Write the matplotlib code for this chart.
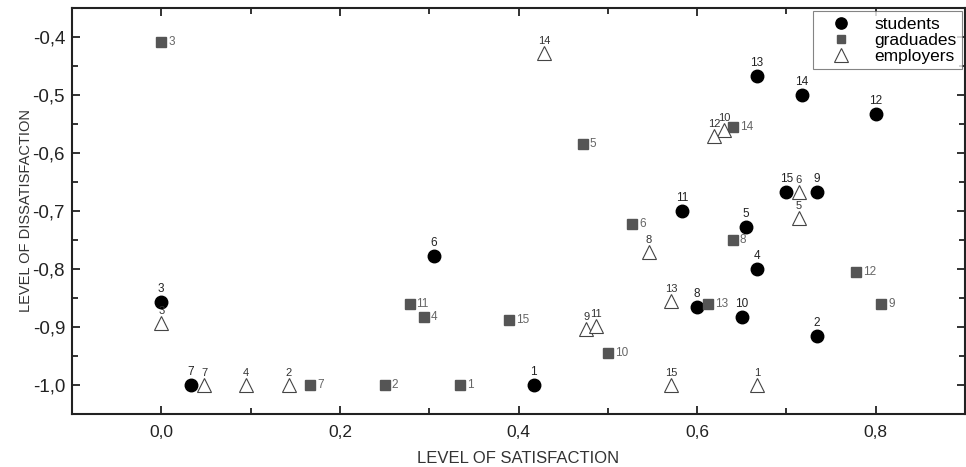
import matplotlib
matplotlib.use("Agg")
import matplotlib.pyplot as plt
from matplotlib.ticker import MultipleLocator, FuncFormatter

plt.rcParams['font.family'] = ['Liberation Sans', 'DejaVu Sans']

# students
stu_ids = [1, 2, 3, 4, 5, 6, 7, 8, 9, 10, 11, 12, 13, 14, 15]
stu_x = [0.417, 0.734, 0.0, 0.667, 0.655, 0.305, 0.033, 0.600, 0.734, 0.650, 0.583, 0.800, 0.667, 0.717, 0.700]
stu_y = [-1.0, -0.916, -0.857, -0.800, -0.727, -0.778, -1.0, -0.866, -0.667, -0.883, -0.700, -0.533, -0.468, -0.500, -0.667]

# graduates
grad_ids = [1, 2, 3, 4, 5, 6, 7, 8, 9, 10, 11, 12, 13, 14, 15]
grad_x = [0.334, 0.250, 0.0, 0.294, 0.472, 0.527, 0.167, 0.640, 0.806, 0.500, 0.278, 0.778, 0.612, 0.640, 0.389]
grad_y = [-1.0, -1.0, -0.409, -0.882, -0.584, -0.722, -1.0, -0.750, -0.860, -0.944, -0.861, -0.806, -0.860, -0.556, -0.888]

# employers
emp_ids = [1, 2, 3, 4, 5, 6, 7, 8, 9, 10, 11, 12, 13, 14, 15]
emp_x = [0.667, 0.143, 0.0, 0.095, 0.714, 0.714, 0.048, 0.546, 0.476, 0.630, 0.487, 0.619, 0.571, 0.429, 0.571]
emp_y = [-1.0, -1.0, -0.893, -1.0, -0.712, -0.667, -1.0, -0.771, -0.903, -0.560, -0.898, -0.571, -0.855, -0.428, -1.0]

fig = plt.figure(figsize=(9.66, 4.67), dpi=100)
ax = fig.add_axes([0.0745, 0.1135, 0.9245, 0.8695])

ax.plot(stu_x, stu_y, linestyle='none', marker='o', markersize=9,
        color='black', label='students', zorder=3)
ax.plot(grad_x, grad_y, linestyle='none', marker='s', markersize=6.5,
        color='#555555', label='graduades', zorder=3)
ax.plot(emp_x, emp_y, linestyle='none', marker='^', markersize=10.5,
        markerfacecolor='white', markeredgecolor='#444444', markeredgewidth=0.8,
        label='employers', zorder=4)

for i, x, y in zip(stu_ids, stu_x, stu_y):
    ax.annotate(str(i), (x, y), xytext=(0, 13), textcoords='offset pixels',
                ha='center', va='center', fontsize=8.5, color='#222222')
for i, x, y in zip(grad_ids, grad_x, grad_y):
    ax.annotate(str(i), (x, y), xytext=(7, 0), textcoords='offset pixels',
                ha='left', va='center', fontsize=8.5, color='#666666')
for i, x, y in zip(emp_ids, emp_x, emp_y):
    ax.annotate(str(i), (x, y), xytext=(0, 12), textcoords='offset pixels',
                ha='center', va='center', fontsize=8, color='#333333')

ax.set_xlim(-0.1, 0.9)
ax.set_ylim(-1.05, -0.35)
ax.xaxis.set_major_locator(MultipleLocator(0.2))
ax.xaxis.set_minor_locator(MultipleLocator(0.1))
ax.yaxis.set_major_locator(MultipleLocator(0.1))
ax.yaxis.set_minor_locator(MultipleLocator(0.05))
fmt = FuncFormatter(lambda v, p: ('%.1f' % v).replace('.', ',').replace('-0,0', '0,0'))
ax.xaxis.set_major_formatter(fmt)
ax.yaxis.set_major_formatter(fmt)
ax.tick_params(which='both', direction='in', top=True, right=True, labelsize=12.5, colors='#222222')
ax.tick_params(axis='y', labelsize=13.5)
ax.tick_params(axis='x', which='major', pad=8)
ax.tick_params(axis='y', which='major', pad=5)
ax.tick_params(which='major', length=6, width=1.3)
ax.tick_params(which='minor', length=4, width=1.3)
for s in ax.spines.values():
    s.set_linewidth(1.5)
    s.set_color('#222222')

ax.set_xlabel('LEVEL OF SATISFACTION', fontsize=12, color='#333333', labelpad=8)
ax.set_ylabel('LEVEL OF DISSATISFACTION', fontsize=10.5, color='#333333', labelpad=0)

leg = ax.legend(loc='upper right', fontsize=12.5, frameon=True, fancybox=False,
                edgecolor='#666666', borderaxespad=0.2, handletextpad=0.6,
                handlelength=2.6, labelspacing=0.05, borderpad=0.3, markerscale=0.9)
leg.get_frame().set_linewidth(0.8)

fig.savefig('out.png', dpi=100)
